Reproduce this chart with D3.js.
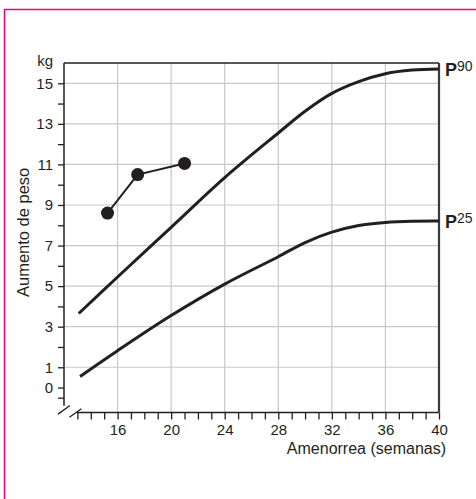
<!DOCTYPE html>
<html>
<head>
<meta charset="utf-8">
<script src="https://cdn.jsdelivr.net/npm/d3@7"></script>
<style>
  body { margin: 0; background: #fff; }
  svg text { font-family: "Liberation Sans", Arial, sans-serif; fill: #231f20; }
</style>
</head>
<body>
<div id="chart"></div>
<script>
'use strict';

// percentile curves (weeks -> kg)
const p90Weeks = [13.1, 16, 20, 24, 28, 30, 32, 34, 36, 38, 40];
const p90Kg = [3.65, 5.45, 7.9, 10.35, 12.55, 13.62, 14.5, 15.08, 15.47, 15.65, 15.7];
const p25Weeks = [13.2, 16, 20, 24, 28, 30, 32, 34, 36, 38, 40];
const p25Kg = [0.55, 1.82, 3.55, 5.1, 6.45, 7.15, 7.66, 7.99, 8.14, 8.2, 8.21];

// measured points
const obsWeeks = [15.25, 17.5, 21];
const obsKg = [8.6, 10.5, 11.05];

const xTickValues = d3.range(13, 41);
const xLabelValues = [16, 20, 24, 28, 32, 36, 40];
const yTickValues = d3.range(0, 16).concat([-0.5]);
const yLabelValues = [0, 1, 3, 5, 7, 9, 11, 13, 15];
const yGridValues = [1, 3, 5, 7, 9, 11, 13, 15];

const W = 476, H = 499;
const ink = '#231f20';

const svg = d3.select('#chart').append('svg')
  .attr('width', W).attr('height', H);

// pink frame (open to the right and bottom)
svg.append('path')
  .attr('d', 'M4.5,499 L4.5,9.5 L476,9.5')
  .attr('fill', 'none').attr('stroke', '#e6007e').attr('stroke-width', 1.5);

const x = d3.scaleLinear().domain([12, 40]).range([64, 439]);
const y = d3.scaleLinear().domain([-1.23, 16]).range([412.5, 63]);

// grid
const grid = svg.append('g').attr('stroke', '#c8c8c8').attr('stroke-width', 1.2);
grid.selectAll('line.v').data(xLabelValues.filter(d => d < 40)).enter()
  .append('line').attr('class', 'v')
  .attr('x1', d => x(d)).attr('x2', d => x(d))
  .attr('y1', y(16)).attr('y2', y(-1.23));
grid.selectAll('line.h').data(yGridValues).enter()
  .append('line').attr('class', 'h')
  .attr('x1', x(12)).attr('x2', x(40))
  .attr('y1', d => y(d)).attr('y2', d => y(d));

// x axis
const xAxis = d3.axisBottom(x)
  .tickValues(xTickValues)
  .tickSize(7).tickPadding(5)
  .tickFormat(d => xLabelValues.includes(d) ? d : '');
const gx = svg.append('g').attr('transform', 'translate(0,' + y(-1.23) + ')').call(xAxis);
gx.select('.domain').remove();
gx.selectAll('.tick line').attr('stroke', ink).attr('stroke-width', 1.3);
gx.selectAll('.tick text').style('font-size', '15px').attr('fill', ink);
gx.append('line')
  .attr('x1', x(13) - 0.5).attr('x2', x(40))
  .attr('stroke', ink).attr('stroke-width', 1.5);

// y axis
const yAxis = d3.axisLeft(y)
  .tickValues(yTickValues)
  .tickSize(6).tickPadding(5)
  .tickFormat(d => yLabelValues.includes(d) ? d : '');
const gy = svg.append('g').attr('transform', 'translate(' + x(12) + ',0)').call(yAxis);
gy.select('.domain').remove();
gy.selectAll('.tick line').attr('stroke', ink).attr('stroke-width', 1.3);
gy.selectAll('.tick text').style('font-size', '15px').attr('fill', ink);
gy.append('line')
  .attr('y1', y(16)).attr('y2', y(-0.9))
  .attr('stroke', ink).attr('stroke-width', 1.5);

// top and right border
svg.append('line')
  .attr('x1', x(12)).attr('x2', x(40)).attr('y1', y(16)).attr('y2', y(16))
  .attr('stroke', ink).attr('stroke-width', 1.5);
svg.append('line')
  .attr('x1', x(40)).attr('x2', x(40)).attr('y1', y(16)).attr('y2', y(-1.23))
  .attr('stroke', '#3a3a3a').attr('stroke-width', 2.2);

// axis break marks
const brk = [[x(12), y(-0.9) + 4], [x(13) - 2, y(-1.23) + 0.5]];
svg.selectAll('line.brk').data(brk).enter().append('line')
  .attr('class', 'brk')
  .attr('x1', d => d[0] - 6).attr('y1', d => d[1] + 4.3)
  .attr('x2', d => d[0] + 6).attr('y2', d => d[1] - 4.3)
  .attr('stroke', ink).attr('stroke-width', 1.3);

// curves
const line = d3.line().x(d => x(d[0])).y(d => y(d[1])).curve(d3.curveCatmullRom.alpha(0.5));
const curves = [
  {weeks: p90Weeks, kg: p90Kg, label: '90'},
  {weeks: p25Weeks, kg: p25Kg, label: '25'},
];
curves.forEach(c => {
  const pts = c.weeks.map((w, i) => [w, c.kg[i]]);
  svg.append('path').datum(pts)
    .attr('d', line)
    .attr('fill', 'none').attr('stroke', ink).attr('stroke-width', 3);
  const last = pts[pts.length - 1];
  const t = svg.append('text')
    .attr('x', x(last[0]) + 6).attr('y', y(last[1]) + 6.5);
  t.append('tspan').text('P').style('font-size', '18px').style('font-weight', 'bold');
  t.append('tspan').text(c.label).attr('dy', -5).style('font-size', '14px');
});

// measured weights
const obs = obsWeeks.map((w, i) => [w, obsKg[i]]);
svg.append('path').datum(obs)
  .attr('d', d3.line().x(d => x(d[0])).y(d => y(d[1])))
  .attr('fill', 'none').attr('stroke', ink).attr('stroke-width', 2);
svg.selectAll('circle.obs').data(obs).enter().append('circle')
  .attr('class', 'obs')
  .attr('cx', d => x(d[0])).attr('cy', d => y(d[1]))
  .attr('r', 6.5).attr('fill', ink);

// titles
svg.append('text').text('kg')
  .attr('x', 53).attr('y', 66).attr('text-anchor', 'end')
  .style('font-size', '15px');
svg.append('text').text('Amenorrea (semanas)')
  .attr('x', 446).attr('y', 454).attr('text-anchor', 'end')
  .style('font-size', '16px');
svg.append('text').text('Aumento de peso')
  .attr('transform', 'translate(29,' + y(7.65) + ') rotate(-90)')
  .attr('text-anchor', 'middle')
  .style('font-size', '16.5px');
</script>
</body>
</html>
